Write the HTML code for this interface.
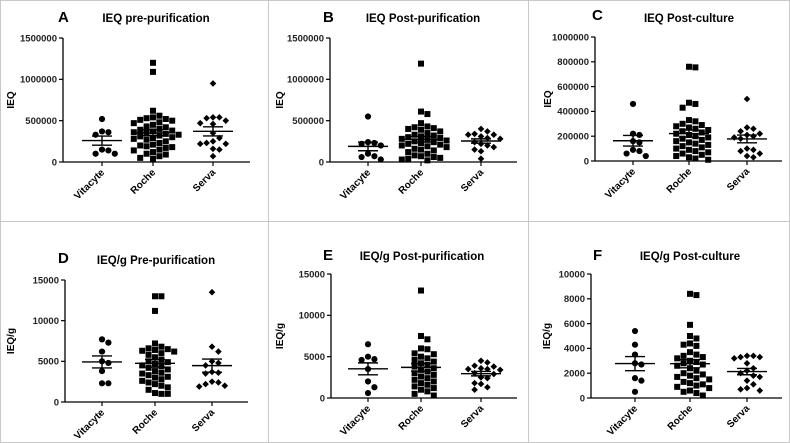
<!DOCTYPE html>
<html><head><meta charset="utf-8"><style>
html,body{margin:0;padding:0;background:#fff;}
svg{display:block;font-family:"Liberation Sans",Arial,sans-serif;}
</style></head><body>
<svg id="fig" width="790" height="443" viewBox="0 0 790 443">
<rect x="0.5" y="0.5" width="789" height="442" fill="#fff" stroke="#c8c8c8"/>
<line x1="268.5" y1="0" x2="268.5" y2="443" stroke="#c8c8c8"/>
<line x1="528.5" y1="0" x2="528.5" y2="443" stroke="#c8c8c8"/>
<line x1="0" y1="221.5" x2="790" y2="221.5" stroke="#c8c8c8"/>
</svg>
<script>
const categories = ["Vitacyte","Roche","Serva"];
const ticksA = [0,500000,1000000,1500000];
const ticksC = [0,200000,400000,600000,800000,1000000];
const ticksD = [0,5000,10000,15000];
const ticksF = [0,2000,4000,6000,8000,10000];

const aVitacyte = [520000,370000,360000,330000,150000,140000,100000,100000];
const aRoche = [1200000,1090000,620000,560000,540000,530000,520000,510000,500000,480000,470000,450000,430000,420000,400000,390000,380000,370000,360000,350000,340000,330000,320000,310000,300000,290000,280000,270000,250000,230000,210000,200000,190000,180000,170000,150000,140000,120000,100000,90000,70000,50000,40000];
const aServa = [950000,540000,540000,530000,500000,470000,460000,350000,290000,250000,230000,220000,220000,160000,150000,70000];

const bVitacyte = [550000,240000,230000,220000,200000,100000,70000,60000,30000];
const bRoche = [1190000,610000,580000,470000,430000,420000,410000,400000,390000,370000,350000,330000,320000,310000,300000,290000,280000,270000,260000,250000,240000,230000,220000,210000,200000,190000,180000,160000,150000,140000,120000,100000,80000,70000,60000,50000,40000,30000,20000];
const bServa = [400000,370000,340000,330000,330000,310000,290000,280000,240000,220000,200000,180000,150000,130000,40000];

const cVitacyte = [460000,220000,210000,160000,150000,90000,80000,60000,40000];
const cRoche = [760000,755000,470000,460000,430000,330000,320000,300000,290000,280000,270000,260000,250000,240000,230000,220000,210000,200000,190000,180000,170000,160000,150000,140000,130000,120000,110000,100000,90000,80000,70000,60000,50000,40000,30000,20000,10000];
const cServa = [500000,270000,260000,240000,220000,210000,200000,190000,180000,100000,90000,80000,60000,40000,30000];

const dVitacyte = [7700,7300,6200,5000,4800,3800,2300,2300];
const dRoche = [13000,13000,11200,7200,6800,6600,6500,6400,6300,6200,6000,5800,5500,5200,5000,4900,4700,4500,4400,4200,4000,3800,3600,3500,3300,3100,3000,2800,2600,2400,2200,2000,1800,1500,1100,1000,1000];
const dServa = [13500,6800,6200,5000,4800,4500,3700,3600,3500,2500,2400,2200,2000,1900];

const eVitacyte = [6500,5000,4700,4600,3500,2000,1300,600];
const eRoche = [13000,7500,7100,6000,5900,5400,5300,5000,4800,4600,4400,4200,4000,3800,3600,3400,3200,3000,2800,2600,2400,2200,2000,1800,1600,1400,1200,1000,800,500,300];
const eServa = [4500,4300,3900,3800,3600,3500,3500,3400,3000,2900,2500,2400,1800,1700,1300,1000];

const fVitacyte = [5400,4300,3500,2800,2700,1600,1400,500];
const fRoche = [8400,8300,5900,5000,4800,4400,4300,4200,3700,3500,3400,3300,3200,3000,2900,2800,2700,2600,2400,2200,2000,1900,1800,1700,1600,1500,1300,1200,1100,1000,900,800,600,500,400,200];
const fServa = [3400,3400,3300,3300,3200,2800,2400,2200,2000,1800,1700,1400,1100,800,700,600];

const panels = [
 {id:"a",letter:"A",title:"IEQ pre-purification",ytitle:"IEQ",ticks:ticksA,series:[aVitacyte,aRoche,aServa],ax:63,y0:162,yt:38,cx:[102,153,213],xe:250,lx:58,ly:22,tx:156,ty:22,ytx:14},
 {id:"b",letter:"B",title:"IEQ Post-purification",ytitle:"IEQ",ticks:ticksA,series:[bVitacyte,bRoche,bServa],ax:330,y0:162,yt:38,cx:[368,421,481],xe:517,lx:323,ly:22,tx:423,ty:22,ytx:283},
 {id:"c",letter:"C",title:"IEQ Post-culture",ytitle:"IEQ",ticks:ticksC,series:[cVitacyte,cRoche,cServa],ax:595,y0:161,yt:37,cx:[633,689,747],xe:782,lx:592,ly:20,tx:689,ty:22,ytx:551},
 {id:"d",letter:"D",title:"IEQ/g Pre-purification",ytitle:"IEQ/g",ticks:ticksD,series:[dVitacyte,dRoche,dServa],ax:65,y0:402,yt:280,cx:[102,155,212],xe:248,lx:58,ly:263,tx:156,ty:264,ytx:14},
 {id:"e",letter:"E",title:"IEQ/g Post-purification",ytitle:"IEQ/g",ticks:ticksD,series:[eVitacyte,eRoche,eServa],ax:331,y0:398,yt:274,cx:[368,421,481],xe:517,lx:323,ly:260,tx:422,ty:260,ytx:283},
 {id:"f",letter:"F",title:"IEQ/g Post-culture",ytitle:"IEQ/g",ticks:ticksF,series:[fVitacyte,fRoche,fServa],ax:591,y0:398,yt:274,cx:[635,690,747],xe:782,lx:593,ly:260,tx:690,ty:260,ytx:550}
];

const NS="http://www.w3.org/2000/svg";
const svg=document.getElementById("fig");
function mk(tag,attrs,parent){const e=document.createElementNS(NS,tag);for(const k in attrs)e.setAttribute(k,attrs[k]);(parent||svg).appendChild(e);return e;}

panels.forEach(p=>{
  const g=mk("g",{});
  
  
  const maxV=p.ticks[p.ticks.length-1];
  const yS=v=>p.y0-(v/maxV)*(p.y0-p.yt);
  let t=mk("text",{x:p.lx,y:p.ly,"font-size":"15","font-weight":"bold"},g);t.textContent=p.letter;
  
  
  t=mk("text",{x:p.tx,y:p.ty,"font-size":"11.5","font-weight":"bold","text-anchor":"middle"},g);t.textContent=p.title;
  
  
  t=mk("text",{x:p.ytx,y:(p.y0+p.yt)/2,"font-size":"10","font-weight":"bold","text-anchor":"middle",transform:`rotate(-90 ${p.ytx} ${(p.y0+p.yt)/2})`},g);t.textContent=p.ytitle;
  
  
  let l=mk("line",{x1:p.ax,y1:p.yt,x2:p.ax,y2:p.y0,stroke:"#000","stroke-width":"1.3"},g);
  
  
  l=mk("line",{x1:p.ax,y1:p.y0,x2:p.xe,y2:p.y0,stroke:"#000","stroke-width":"1.3"},g);
  
  
  p.ticks.forEach(v=>{
    const y=yS(v);
    const tk=mk("line",{x1:p.ax-4,y1:y,x2:p.ax,y2:y,stroke:"#000","stroke-width":"1.2"},g);
    
    
    const tl=mk("text",{x:p.ax-6,y:y+3.3,"font-size":"9.5","font-weight":"bold","text-anchor":"end",fill:"#222"},g);
    tl.textContent=v;
    
    
  });
  categories.forEach((c,i)=>{
    const x=p.cx[i];
    const tk=mk("line",{x1:x,y1:p.y0,x2:x,y2:p.y0+4,stroke:"#000","stroke-width":"1.2"},g);
    
    
    const tl=mk("text",{x:x+3,y:p.y0+11,"font-size":"10","font-weight":"bold","text-anchor":"end",transform:`rotate(-45 ${x+3} ${p.y0+11})`},g);
    tl.textContent=c;
    
    
    const vals=p.series[i];
    const placed=[];const d=6.4;const maxOff=26;
    vals.forEach(v=>{
      const y=yS(v);let best=0,bestD=-1;
      for(let k=0;k<30;k++){
        const o=(k%2?1:-1)*Math.ceil(k/2)*d;
        if(Math.abs(o)>maxOff)break;
        const md=placed.reduce((m,q)=>Math.min(m,Math.hypot(q[0]-o,q[1]-y)),99);
        if(md>=d){best=o;bestD=md;break;}
        if(md>bestD){bestD=md;best=o;}
      }
      placed.push([best,y]);
      const px=x+best;let m;
      if(i===0)m=mk("circle",{cx:px,cy:y,r:3.1,fill:"#000"},g);
      else if(i===1)m=mk("rect",{x:px-3,y:y-3,width:6,height:6,fill:"#000"},g);
      else m=mk("polygon",{points:`${px},${y-3.3} ${px+3.3},${y} ${px},${y+3.3} ${px-3.3},${y}`,fill:"#000"},g);
      
      
    });
    const n=vals.length,mean=vals.reduce((a,b)=>a+b,0)/n;
    const sd=Math.sqrt(vals.reduce((a,b)=>a+(b-mean)*(b-mean),0)/(n-1)),sem=sd/Math.sqrt(n);
    const ym=yS(mean),y1=yS(mean+sem),y2=yS(mean-sem);
    let e=mk("line",{x1:x-20,y1:ym,x2:x+20,y2:ym,stroke:"#000","stroke-width":"1.4"},g);
    
    
    e=mk("line",{x1:x,y1:y1,x2:x,y2:y2,stroke:"#000","stroke-width":"1.4"},g);
    
    
    e=mk("line",{x1:x-10,y1:y1,x2:x+10,y2:y1,stroke:"#000","stroke-width":"1.4"},g);
    
    
    e=mk("line",{x1:x-10,y1:y2,x2:x+10,y2:y2,stroke:"#000","stroke-width":"1.4"},g);
    
    
  });
});
</script>
</body></html>
